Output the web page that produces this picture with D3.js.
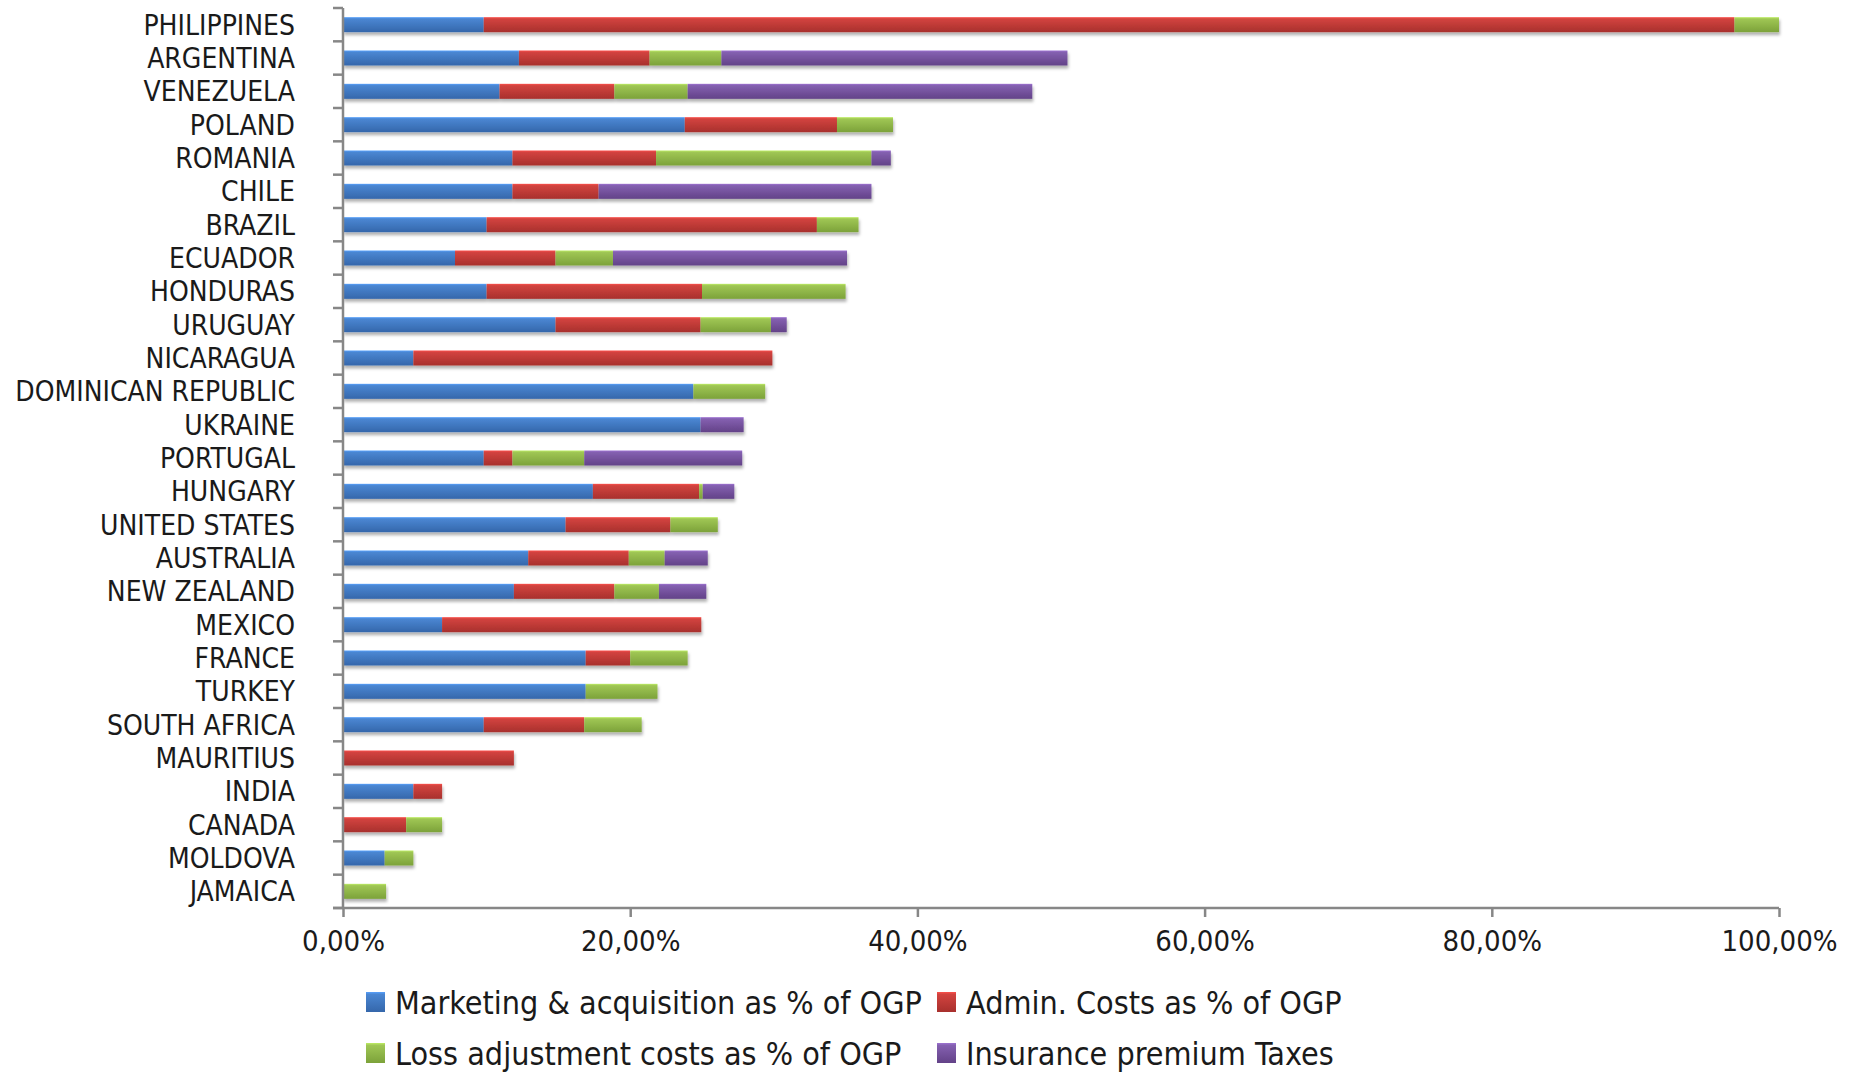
<html>
<head>
<style>
  body { margin: 0; background: #fff; }
  svg text { font-family: "Liberation Sans Narrow", "DejaVu Sans Condensed", "Liberation Sans", sans-serif; fill: #1a1a1a; }
  .axis path, .axis line { stroke: #878787; stroke-width: 2.5; }
</style>
<script src="https://d3js.org/d3.v7.min.js"></script>
</head>
<body>
<svg width="1849" height="1073"></svg>
<script>
// categories top to bottom
const countries = ["PHILIPPINES", "ARGENTINA", "VENEZUELA", "POLAND", "ROMANIA", "CHILE", "BRAZIL",
  "ECUADOR", "HONDURAS", "URUGUAY", "NICARAGUA", "DOMINICAN REPUBLIC", "UKRAINE", "PORTUGAL",
  "HUNGARY", "UNITED STATES", "AUSTRALIA", "NEW ZEALAND", "MEXICO", "FRANCE", "TURKEY",
  "SOUTH AFRICA", "MAURITIUS", "INDIA", "CANADA", "MOLDOVA", "JAMAICA"];

// values in % of OGP, same order as countries
const marketing = [9.8, 12.25, 10.9, 23.8, 11.8, 11.8, 10.0, 7.8, 10.0, 14.8, 4.9, 24.4, 24.9, 9.8,
  17.4, 15.5, 12.9, 11.9, 6.9, 16.9, 16.9, 9.8, 0, 4.9, 0, 2.9, 0];
const admin = [87.1, 9.1, 8.0, 10.6, 10.0, 6.0, 23.0, 7.0, 15.0, 10.1, 25.0, 0, 0, 2.0,
  7.4, 7.3, 7.0, 7.0, 18.05, 3.1, 0, 7.0, 11.9, 2.0, 4.4, 0, 0];
const lossAdj = [3.1, 5.0, 5.1, 3.9, 15.0, 0, 2.9, 4.0, 10.0, 4.9, 0, 5.0, 0, 5.0,
  0.25, 3.3, 2.5, 3.1, 0, 4.0, 5.0, 4.0, 0, 0, 2.5, 2.0, 3.0];
const taxes = [0, 24.1, 24.0, 0, 1.35, 19.0, 0, 16.3, 0, 1.1, 0, 0, 3.0, 11.0,
  2.2, 0, 3.0, 3.3, 0, 0, 0, 0, 0, 0, 0, 0, 0];

const seriesNames = ["Marketing & acquisition as % of OGP", "Admin. Costs as % of OGP",
  "Loss adjustment costs as % of OGP", "Insurance premium Taxes"];
const seriesKeys = ["marketing", "admin", "lossAdj", "taxes"];
const xTicks = [0, 0.2, 0.4, 0.6, 0.8, 1.0];

const colors = [
  ["#4a86d2", "#3567ab"],
  ["#d2433f", "#a8302d"],
  ["#9fc654", "#7ca23a"],
  ["#8460b0", "#634288"]
];

const rows = countries.map((c, i) => ({
  country: c,
  marketing: marketing[i] / 100,
  admin: admin[i] / 100,
  lossAdj: lossAdj[i] / 100,
  taxes: taxes[i] / 100
}));

const svg = d3.select("svg");
const defs = svg.append("defs");

colors.forEach((c, i) => {
  const g = defs.append("linearGradient").attr("id", "grad" + i)
    .attr("x1", 0).attr("y1", 0).attr("x2", 0).attr("y2", 1);
  g.append("stop").attr("offset", "0%").attr("stop-color", d3.color(c[0]).brighter(0.5));
  g.append("stop").attr("offset", "12%").attr("stop-color", c[0]);
  g.append("stop").attr("offset", "100%").attr("stop-color", c[1]);
});

const shadow = defs.append("filter").attr("id", "shadow")
  .attr("x", "-5%").attr("y", "-30%").attr("width", "110%").attr("height", "180%");
shadow.append("feDropShadow").attr("dx", 1).attr("dy", 3).attr("stdDeviation", 1.5)
  .attr("flood-color", "#000").attr("flood-opacity", 0.3);

const x = d3.scaleLinear().domain([0, 1]).range([343, 1779]);
const y = d3.scaleBand().domain(countries).range([8, 908]).paddingInner(0.55).paddingOuter(0.275);

const stacked = d3.stack().keys(seriesKeys)(rows);

// bars
const barG = svg.append("g");
rows.forEach((r, i) => {
  const g = barG.append("g").attr("filter", "url(#shadow)");
  stacked.forEach((s, k) => {
    const d = s[i];
    if (d[1] - d[0] <= 0) return;
    g.append("rect")
      .attr("x", x(d[0]))
      .attr("y", y(r.country))
      .attr("width", x(d[1]) - x(d[0]))
      .attr("height", y.bandwidth())
      .attr("fill", "url(#grad" + k + ")");
  });
});

// y axis with ticks between categories
const yAxis = svg.append("g").attr("class", "axis");
yAxis.append("line").attr("x1", 343).attr("x2", 343).attr("y1", 8).attr("y2", 908);
d3.range(countries.length + 1).forEach(i => {
  const yy = 8 + i * (900 / countries.length);
  yAxis.append("line").attr("x1", 333).attr("x2", 343).attr("y1", yy).attr("y2", yy);
});
svg.append("g").selectAll("text").data(countries).join("text")
  .attr("x", 295)
  .attr("y", d => y(d) + y.bandwidth() / 2)
  .attr("dy", "0.36em")
  .attr("text-anchor", "end")
  .style("font-size", "28px")
  .text(d => d);

// x axis
const locale = d3.formatLocale({ decimal: ",", thousands: ".", grouping: [3], currency: ["", ""] });
const fmt = locale.format(".2%");
const xAxis = svg.append("g").attr("class", "axis").attr("transform", "translate(0,908)")
  .call(d3.axisBottom(x).tickValues(xTicks).tickFormat(fmt).tickSize(9).tickSizeOuter(0));
xAxis.select(".domain").attr("d", "M333,0H1779");
xAxis.selectAll("text").attr("y", 22).style("font-size", "29px").attr("fill", "#1a1a1a");

// legend
const legendPos = [[366, 992], [937, 992], [366, 1043], [937, 1043]];
const legend = svg.append("g");
seriesNames.forEach((name, i) => {
  const p = legendPos[i];
  legend.append("rect").attr("x", p[0]).attr("y", p[1]).attr("width", 19).attr("height", 20)
    .attr("fill", "url(#grad" + i + ")");
  legend.append("text").attr("x", p[0] + 29).attr("y", p[1] + 10).attr("dy", "0.36em")
    .style("font-size", "32px").text(name);
});
</script>
</body>
</html>
